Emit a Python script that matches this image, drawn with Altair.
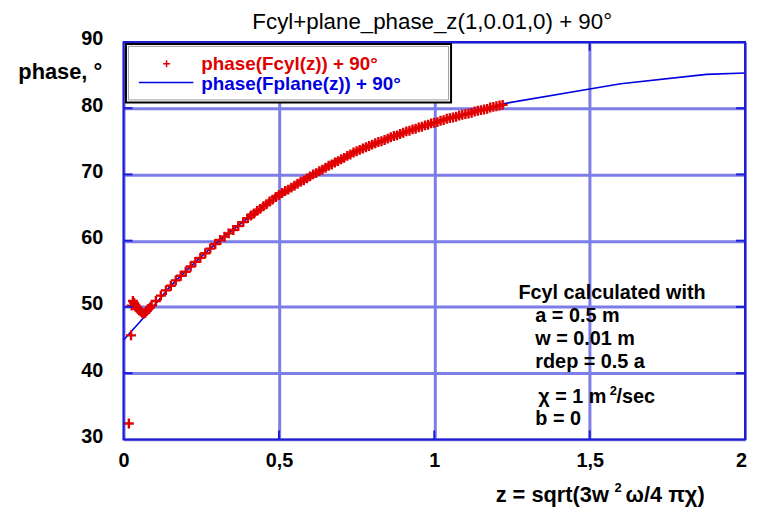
import altair as alt
import pandas as pd

# ---------------- data ----------------
cyl_z = [0.017, 0.024, 0.026, 0.030, 0.034, 0.038, 0.042, 0.046, 0.050, 0.055,
         0.060, 0.065, 0.070, 0.075, 0.080, 0.085, 0.090, 0.104,
         0.120, 0.136, 0.152, 0.168, 0.184, 0.200, 0.216, 0.231, 0.247, 0.263,
         0.279, 0.295, 0.311, 0.325, 0.338, 0.353, 0.369, 0.385,
         0.40, 0.41, 0.42, 0.43, 0.44, 0.45, 0.46, 0.47, 0.48, 0.49,
         0.50, 0.51, 0.52, 0.53, 0.54, 0.55, 0.56, 0.57, 0.58, 0.59,
         0.60, 0.61, 0.62, 0.63, 0.64, 0.65, 0.66, 0.67, 0.68, 0.69,
         0.70, 0.71, 0.72, 0.73, 0.74, 0.75, 0.76, 0.77, 0.78, 0.79,
         0.80, 0.81, 0.82, 0.83, 0.84, 0.85, 0.86, 0.87, 0.88, 0.89,
         0.90, 0.91, 0.92, 0.93, 0.94, 0.95, 0.96, 0.97, 0.98, 0.99,
         1.00, 1.01, 1.02, 1.03, 1.04, 1.05, 1.06, 1.07, 1.08, 1.09,
         1.10, 1.11, 1.12, 1.13, 1.14, 1.15, 1.16, 1.17, 1.18, 1.19,
         1.20, 1.21, 1.22]
cyl_phase = [32.4, 45.7, 50.2, 50.9, 50.6, 50.3, 50.0, 49.7, 49.5, 49.3,
             49.1, 49.0, 49.1, 49.4, 49.7, 49.9, 50.2, 50.9,
             51.7, 52.5, 53.2, 54.0, 54.7, 55.3, 56.1, 56.8, 57.4, 58.1,
             58.8, 59.5, 60.1, 60.6, 61.1, 61.6, 62.2, 62.8,
             63.4, 63.8, 64.1, 64.5, 64.8, 65.2, 65.5, 65.9, 66.2, 66.6,
             66.9, 67.2, 67.5, 67.7, 68.0, 68.3, 68.6, 68.9, 69.1, 69.4,
             69.7, 70.0, 70.2, 70.5, 70.7, 71.0, 71.3, 71.5, 71.8, 72.0,
             72.3, 72.5, 72.8, 73.0, 73.3, 73.5, 73.7, 73.9, 74.1, 74.3,
             74.5, 74.7, 74.9, 75.0, 75.2, 75.4, 75.6, 75.8, 75.9, 76.1,
             76.3, 76.5, 76.6, 76.8, 76.9, 77.1, 77.2, 77.4, 77.5, 77.7,
             77.8, 77.9, 78.1, 78.2, 78.4, 78.5, 78.6, 78.7, 78.9, 79.0,
             79.1, 79.2, 79.3, 79.5, 79.6, 79.7, 79.8, 79.9, 80.1, 80.2,
             80.3, 80.4, 80.5]

plane_z = [0.0, 0.05, 0.10, 0.15, 0.20, 0.25, 0.30, 0.35, 0.40, 0.50, 0.60,
           0.70, 0.80, 0.90, 1.00, 1.10, 1.213, 1.50, 1.60, 1.876, 2.00]
plane_phase = [45.0, 47.6, 50.3, 53.1, 55.4, 57.6, 59.7, 61.6, 63.4, 66.9, 69.7,
               72.3, 74.5, 76.3, 77.8, 79.1, 80.6, 82.9, 83.7, 85.1, 85.3]

x_ticks = [0, 0.5, 1, 1.5, 2]
x_tick_labels = ["0", "0,5", "1", "1,5", "2"]
y_ticks = [30, 40, 50, 60, 70, 80, 90]

title_text = "Fcyl+plane_phase_z(1,0.01,0) + 90°"
y_title = "phase, °"
x_title_parts = ["z = sqrt(3w", "2", "ω/4 πχ)"]
legend_cyl = "phase(Fcyl(z)) + 90°"
legend_plane = "phase(Fplane(z)) + 90°"
note_lines = ["Fcyl calculated with", "a = 0.5 m", "w = 0.01 m",
              "rdep = 0.5 a", "b = 0"]
chi_parts = ["χ = 1 m", "2", "/sec"]

# ---------------- layout / style ----------------
X0, Y0 = 124.6, 40.0          # page position of plot's top-left corner
W, H = 627, 401
FONT = "Liberation Sans"
FRAME = "#1c1cd8"
GRID = "#7d7de8"
RED = "#e00000"
BLUE = "#0000e0"
PLUS = "M-1,0L1,0M0,-1L0,1"

xs = alt.Scale(domain=[0, 2], nice=False, zero=False)
ys = alt.Scale(domain=[30, 90], nice=False, zero=False)

cyl = pd.DataFrame({"z": cyl_z, "phase": cyl_phase})
plane = pd.DataFrame({"z": plane_z, "phase": plane_phase})

x_label_expr = ""
for v, lab in zip(x_ticks, x_tick_labels):
    x_label_expr += f"datum.value == {v} ? '{lab}' : "
x_label_expr += "datum.label"

x_axis = alt.Axis(values=x_ticks, grid=True, gridColor=GRID, gridWidth=3,
                  gridOpacity=1, domain=False, ticks=False, title=None,
                  labelExpr=x_label_expr,
                  labelFont=FONT, labelFontSize=20, labelFontWeight="bold",
                  labelColor="black", labelPadding=21, labelBaseline="middle",
                  labelFlush=False,
                  labelOffset={"condition": {"test": "datum.value == 2", "value": -4},
                               "value": 0})
y_axis = alt.Axis(values=y_ticks, grid=True, gridColor=GRID, gridWidth=3,
                  gridOpacity=1, domain=False, ticks=False, title=None,
                  labelFont=FONT, labelFontSize=20, labelFontWeight="bold",
                  labelColor="black", labelPadding=21, labelOffset=-3,
                  labelFlush=False)

one = pd.DataFrame({"k": [0]})


def txt(text, x, y, size=20, color="black", align="left", weight="bold"):
    return alt.Chart(pd.DataFrame({"t": [text]})).mark_text(
        align=align, baseline="middle", font=FONT, fontSize=size,
        fontWeight=weight, color=color
    ).encode(x=alt.value(x - X0), y=alt.value(y - Y0), text="t:N")


line = alt.Chart(plane).mark_line(color=BLUE, strokeWidth=1.6).encode(
    x=alt.X("z:Q", scale=xs, axis=x_axis),
    y=alt.Y("phase:Q", scale=ys, axis=y_axis),
)
points = alt.Chart(cyl).mark_point(
    shape=PLUS, filled=False, size=100, strokeWidth=2.4, color=RED, opacity=1
).encode(
    x=alt.X("z:Q", scale=xs, axis=x_axis),
    y=alt.Y("phase:Q", scale=ys, axis=y_axis),
)

xt = pd.DataFrame({"z": x_ticks[1:-1]})
yt = pd.DataFrame({"phase": y_ticks[1:-1]})
tick_b = alt.Chart(xt).mark_rule(color=FRAME, strokeWidth=2).encode(
    x=alt.X("z:Q", scale=xs, axis=x_axis), y=alt.value(H - 9), y2=alt.value(H))
tick_t = alt.Chart(xt).mark_rule(color=FRAME, strokeWidth=2).encode(
    x=alt.X("z:Q", scale=xs, axis=x_axis), y=alt.value(0), y2=alt.value(9))
tick_l = alt.Chart(yt).mark_rule(color=FRAME, strokeWidth=2).encode(
    y=alt.Y("phase:Q", scale=ys, axis=y_axis), x=alt.value(0), x2=alt.value(9))
tick_r = alt.Chart(yt).mark_rule(color=FRAME, strokeWidth=2).encode(
    y=alt.Y("phase:Q", scale=ys, axis=y_axis), x=alt.value(W - 9), x2=alt.value(W))

frame = alt.Chart(one).mark_rect(fillOpacity=0, stroke=FRAME, strokeWidth=2).encode(
    x=alt.value(0), x2=alt.value(W), y=alt.value(0), y2=alt.value(H))

# legend box
leg_box = alt.Chart(one).mark_rect(fill="white", stroke="black", strokeWidth=2).encode(
    x=alt.value(127 - X0), x2=alt.value(455 - X0),
    y=alt.value(42 - Y0), y2=alt.value(101 - Y0))
leg_inner = alt.Chart(one).mark_rect(fillOpacity=0, stroke="#9a9a9a", strokeWidth=1).encode(
    x=alt.value(129.5 - X0), x2=alt.value(452.5 - X0),
    y=alt.value(44.5 - Y0), y2=alt.value(98.5 - Y0))
leg_plus = alt.Chart(one).mark_point(
    shape=PLUS, filled=False, size=49, strokeWidth=1.5, color=RED, opacity=1
).encode(x=alt.value(168 - X0), y=alt.value(62 - Y0))
leg_line = alt.Chart(one).mark_rule(color=BLUE, strokeWidth=1.6).encode(
    x=alt.value(140 - X0), x2=alt.value(195 - X0), y=alt.value(81 - Y0))

layers = [
    line, points, tick_b, tick_t, tick_l, tick_r, frame,
    leg_box, leg_inner, leg_plus, leg_line,
    txt(legend_cyl, 203, 62.5, size=19, color=RED),
    txt(legend_plane, 203, 82.5, size=19, color=BLUE),
    txt(title_text, 436, 19.5, size=22.5, weight="normal", align="center"),
    txt(y_title, 103, 70, size=22, align="right"),
    txt(x_title_parts[0], 500, 497, size=22),
    txt(x_title_parts[1], 620, 490, size=13),
    txt(x_title_parts[2], 631, 497, size=22),
    txt(note_lines[0], 523, 293),
    txt(note_lines[1], 540, 317),
    txt(note_lines[2], 540, 340),
    txt(note_lines[3], 540, 363),
    txt(chi_parts[0], 543, 398),
    txt(chi_parts[1], 615, 392, size=13),
    txt(chi_parts[2], 622, 398),
    txt(note_lines[4], 540, 420),
]

chart = alt.layer(*layers).properties(
    width=W, height=H,
    autosize=alt.AutoSizeParams(type="none"),
    padding={"left": X0 - 8, "top": Y0 - 8, "right": 4, "bottom": 68},
    background="white",
).configure_view(stroke="transparent")

chart.save("out.html", embed_options={"renderer": "svg", "actions": False})
